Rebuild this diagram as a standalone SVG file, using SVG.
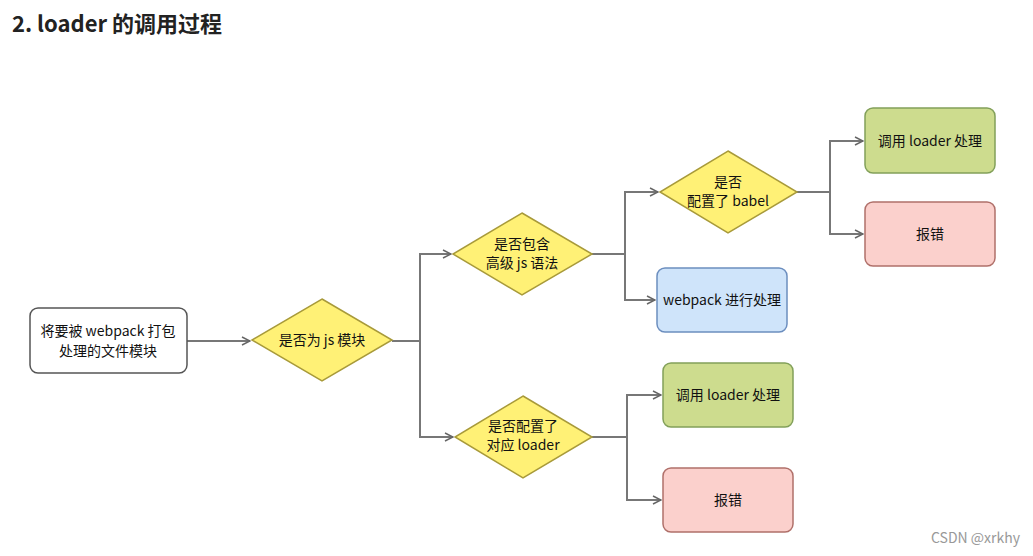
<svg xmlns="http://www.w3.org/2000/svg" width="1033" height="556" viewBox="0 0 1033 556">
<defs>
<marker id="ar" markerWidth="10" markerHeight="10" refX="9" refY="5" orient="auto" markerUnits="userSpaceOnUse">
<path d="M1,1 L9,5 L1,9" fill="none" stroke="#666" stroke-width="1.5"/>
</marker>
<style>
text{font-family:"Noto Sans CJK SC","Liberation Sans",sans-serif;font-size:14px;fill:#111;text-anchor:middle}
.c{fill:none;stroke:#777;stroke-width:2;}
.d{fill:#fff176;stroke:#a89a3a;stroke-width:1.5}
.g{fill:#cddc8e;stroke:#82a05a;stroke-width:1.5}
.r{fill:#fbd0cc;stroke:#b0706a;stroke-width:1.5}
.b{fill:#cfe4fa;stroke:#6c8ebf;stroke-width:1.5}
</style>
</defs>
<rect width="1033" height="556" fill="#fff"/>
<text x="12" y="32" style="font-size:22px;font-weight:bold;text-anchor:start;fill:#222">2. loader 的调用过程</text>
<g id="connectors">
<path class="c" d="M187,341 H250" marker-end="url(#ar)"/>
<path class="c" d="M392,341 H420 V254 H451" marker-end="url(#ar)"/>
<path class="c" d="M420,341 V437 H453" marker-end="url(#ar)"/>
<path class="c" d="M592,254 H625 V192 H658" marker-end="url(#ar)"/>
<path class="c" d="M625,254 V300 H655" marker-end="url(#ar)"/>
<path class="c" d="M797,192 H830 V141 H863" marker-end="url(#ar)"/>
<path class="c" d="M830,192 V234 H863" marker-end="url(#ar)"/>
<path class="c" d="M592,437 H627 V395 H661" marker-end="url(#ar)"/>
<path class="c" d="M627,437 V500 H661" marker-end="url(#ar)"/>
</g>
<g id="start"><rect x="30" y="308" width="157" height="65" rx="8" fill="#fff" stroke="#555" stroke-width="1.5"/>
<text x="108" y="336">将要被 webpack 打包</text><text x="108" y="356">处理的文件模块</text></g>
<g id="isjs"><polygon class="d" points="322,299 392,340 322,381 252,340"/><text x="322" y="345">是否为 js 模块</text></g>
<g id="adv"><polygon class="d" points="522,213 592,254 522,295 453,254"/><text x="522" y="249">是否包含</text><text x="522" y="268">高级 js 语法</text></g>
<g id="cfg"><polygon class="d" points="523,396 592,437 523,478 455,437"/><text x="523" y="431">是否配置了</text><text x="523" y="450">对应 loader</text></g>
<g id="babel"><polygon class="d" points="728,151 797,192 728,233 660,192"/><text x="728" y="187">是否</text><text x="728" y="206">配置了 babel</text></g>
<g id="wp"><rect class="b" x="657" y="268" width="130" height="64" rx="8"/><text x="722" y="305">webpack 进行处理</text></g>
<g id="g1"><rect class="g" x="865" y="108" width="130" height="65" rx="8"/><text x="930" y="146">调用 loader 处理</text></g>
<g id="r1"><rect class="r" x="865" y="202" width="130" height="64" rx="8"/><text x="930" y="239">报错</text></g>
<g id="g2"><rect class="g" x="663" y="363" width="130" height="64" rx="8"/><text x="728" y="400">调用 loader 处理</text></g>
<g id="r2"><rect class="r" x="663" y="468" width="130" height="64" rx="8"/><text x="728" y="505">报错</text></g>
<text x="1020" y="543" style="text-anchor:end;font-size:14px;fill:#999">CSDN @xrkhy</text>
</svg>
